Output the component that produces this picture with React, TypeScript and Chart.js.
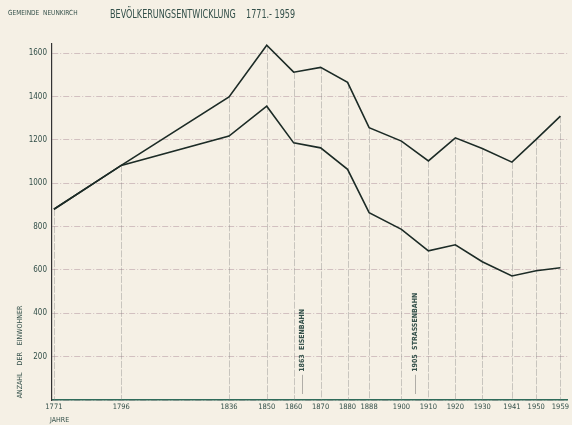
import React, { useEffect, useRef } from "react";
import { Chart, registerables } from "chart.js";

Chart.register(...registerables);

const years = [1771, 1796, 1836, 1850, 1860, 1870, 1880, 1888, 1900, 1910, 1920, 1930, 1941, 1950, 1959];
const upperSeries = [880, 1082, 1398, 1636, 1512, 1534, 1465, 1256, 1194, 1103, 1209, 1160, 1097, 1202, 1309];
const lowerSeries = [880, 1082, 1217, 1355, 1186, 1163, 1064, 864, 787, 688, 716, 638, 572, 596, 610];
const yTicks = [0, 200, 400, 600, 800, 1000, 1200, 1400, 1600];
const eventYears = [1863, 1905];
const eventLabels = ["1863  EISENBAHN", "1905  STRASSENBAHN"];

const PAPER = "#f5f0e5";
const INK = "#1c2b26";
const TEXT = "#34504a";
const FONT = "'DejaVu Sans Condensed', 'Liberation Sans Narrow', 'DejaVu Sans', sans-serif";

const paperPlugin = {
  id: "paper",
  beforeDraw(chart: any) {
    const { ctx, width, height } = chart;
    ctx.save();
    ctx.fillStyle = PAPER;
    ctx.fillRect(0, 0, width, height);
    ctx.restore();
  },
};

const dropLinesPlugin = {
  id: "dropLines",
  beforeDatasetsDraw(chart: any) {
    const { ctx } = chart;
    const xs = chart.scales.x;
    const ys = chart.scales.y;
    const y0 = ys.getPixelForValue(0);
    ctx.save();
    ctx.strokeStyle = "rgba(120,120,120,0.45)";
    ctx.lineWidth = 0.8;
    ctx.setLineDash([7, 1.5]);
    years.forEach((yr, i) => {
      const x = Math.round(xs.getPixelForValue(yr)) + 0.5;
      const yt = ys.getPixelForValue(upperSeries[i]);
      ctx.beginPath();
      ctx.moveTo(x, yt);
      ctx.lineTo(x, y0);
      ctx.stroke();
    });
    ctx.restore();

    // event annotations
    ctx.save();
    eventYears.forEach((yr, i) => {
      const x = Math.round(xs.getPixelForValue(yr)) + 0.5;
      const yStart = ys.getPixelForValue(130);
      ctx.strokeStyle = "rgba(100,100,100,0.6)";
      ctx.lineWidth = 0.8;
      ctx.setLineDash([]);
      ctx.beginPath();
      ctx.moveTo(x, yStart + 3);
      ctx.lineTo(x, y0 - 6);
      ctx.stroke();
      ctx.save();
      ctx.translate(x, yStart);
      ctx.rotate(-Math.PI / 2);
      ctx.fillStyle = TEXT;
      ctx.font = `bold 7px ${FONT}`;
      ctx.textAlign = "left";
      ctx.textBaseline = "middle";
      ctx.fillText(eventLabels[i], 0, 0);
      ctx.restore();
    });
    ctx.restore();
  },
};

export default function App() {
  const ref = useRef<HTMLCanvasElement | null>(null);

  useEffect(() => {
    document.body.style.margin = "0";
    document.body.style.background = PAPER;
    const canvas = ref.current;
    if (!canvas) return;
    const chart = new Chart(canvas, {
      type: "line",
      data: {
        datasets: [
          {
            label: "upper",
            data: years.map((x, i) => ({ x, y: upperSeries[i] })),
            borderColor: INK,
            borderWidth: 1.6,
            pointRadius: 0,
            tension: 0,
          },
          {
            label: "lower",
            data: years.map((x, i) => ({ x, y: lowerSeries[i] })),
            borderColor: INK,
            borderWidth: 1.6,
            pointRadius: 0,
            tension: 0,
          },
        ],
      },
      options: {
        responsive: false,
        animation: false,
        layout: { padding: { top: 44, right: 0, left: 0, bottom: 0 } },
        plugins: {
          legend: { display: false },
          tooltip: { enabled: false },
          title: { display: false },
        },
        scales: {
          x: {
            type: "linear",
            min: 1770.3,
            max: 1961.6,
            afterBuildTicks: (axis: any) => {
              axis.ticks = years.map((v) => ({ value: v }));
            },
            afterFit: (axis: any) => {
              axis.height = 25;
            },
            grid: { display: false, drawTicks: false },
            border: { display: true, color: "#2f6b5a", width: 1.5 },
            ticks: {
              autoSkip: false,
              maxRotation: 0,
              padding: 3,
              color: TEXT,
              font: { family: FONT, size: 7.5 },
              callback: (v: any) => String(v),
            },
          },
          y: {
            type: "linear",
            min: 0,
            max: 1642,
            afterBuildTicks: (axis: any) => {
              axis.ticks = yTicks.map((v) => ({ value: v }));
            },
            afterFit: (axis: any) => {
              axis.width = 52;
            },
            grid: {
              color: "rgba(165,130,145,0.55)",
              lineWidth: 0.8,
              drawTicks: false,
            },
            border: { display: true, color: "#333333", width: 1.2, dash: [6, 2, 1, 2] },
            ticks: {
              padding: 5,
              color: TEXT,
              font: { family: FONT, size: 8 },
              callback: (v: any) => (v === 0 ? "" : String(v)),
            },
          },
        },
      } as any,
      plugins: [paperPlugin, dropLinesPlugin],
    });
    return () => chart.destroy();
  }, []);

  return (
    <div style={{ position: "relative", width: 572, height: 425, background: PAPER, overflow: "hidden" }}>
      <canvas ref={ref} width={572} height={425} style={{ display: "block", width: 572, height: 425 }} />
      <div
        style={{
          position: "absolute",
          left: 8,
          top: 9,
          fontFamily: FONT,
          fontSize: 7,
          color: TEXT,
          whiteSpace: "nowrap",
          transform: "scaleX(0.93)",
          transformOrigin: "left center",
        }}
      >
        GEMEINDE&nbsp;&nbsp;NEUNKIRCH
      </div>
      <div
        style={{
          position: "absolute",
          left: 110,
          top: 7,
          fontFamily: FONT,
          fontSize: 11.5,
          color: TEXT,
          whiteSpace: "nowrap",
          transform: "scaleX(0.78)",
          transformOrigin: "left center",
        }}
      >
        BEVÖLKERUNGSENTWICKLUNG&nbsp;&nbsp;&nbsp;&nbsp;1771.- 1959
      </div>
      <div
        style={{
          position: "absolute",
          left: 20,
          top: 352,
          transform: "translate(-50%, -50%) rotate(-90deg)",
          fontFamily: FONT,
          fontSize: 7,
          color: TEXT,
          whiteSpace: "nowrap",
          wordSpacing: 5,
        }}
      >
        ANZAHL DER EINWOHNER
      </div>
      <div
        style={{
          position: "absolute",
          left: 50,
          top: 416,
          fontFamily: FONT,
          fontSize: 7,
          color: TEXT,
          whiteSpace: "nowrap",
        }}
      >
        JAHRE
      </div>
    </div>
  );
}
